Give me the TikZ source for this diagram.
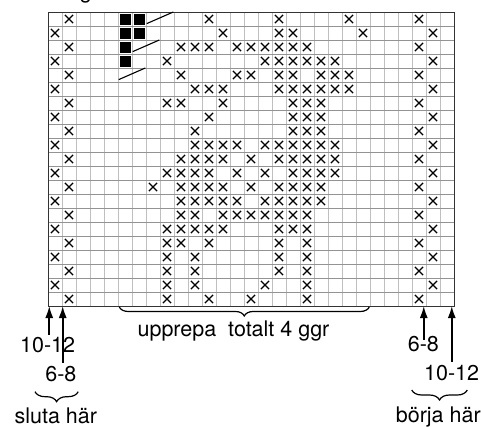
\documentclass[tikz,border=0pt]{standalone}
\usepackage{fontspec}
\setmainfont{TeX Gyre Heros}
\usetikzlibrary{arrows.meta}
\usetikzlibrary{decorations.pathreplacing}
\tikzset{>=latex}
\tikzset{
	xstitch/.pic={\draw[line width=1.3pt] (-0.29,-0.29)--(0.29,0.29) (-0.29,0.29)--(0.29,-0.29);},
	txt/.style={font=\fontsize{21.5}{25}\selectfont, inner sep=0pt, anchor=base},
	upp/.style={line width=1.6pt, -{Latex[length=12pt,width=8pt]}},
	klammer/.style={line width=1.2pt, decorate, decoration={brace, mirror, amplitude=#1}}
}

\begin{document}
\begin{tikzpicture}[x=14pt,y=14pt]
			\useasboundingbox (-3.4286,-8.5714) rectangle (30.9286,21.8571);
			% rutnät
			\foreach \i in {1,...,28} \draw[gray!50,line width=0.6pt] (\i,0)--(\i,21);
			\foreach \j in {1,...,20} \draw[gray!85,line width=0.7pt] (0,\j)--(29,\j);
			\draw[black!80,line width=0.8pt] (0,0) rectangle (29,21);
			\node[txt] (rubrik) at (2.71,21.93) {g};
			
			% mönster
			\foreach \r/\cols in {1/{2,12,17,22,27}, 2/{1,13,17,18,23,28},
				3/{2,10,11,12,14,15,16,17,18,19,27}, 4/{1,9,16,17,18,19,20,21,28},
				5/{2,10,14,15,17,18,20,21,22,27}, 6/{1,11,12,13,17,18,19,20,21,22,28},
				7/{2,9,10,13,18,19,20,27}, 8/{1,12,18,19,20,28}, 9/{2,11,18,19,20,27},
				10/{1,11,12,13,14,16,17,18,19,20,21,28}, 11/{2,10,11,12,13,15,17,18,19,20,21,27},
				12/{1,9,10,11,12,14,16,18,19,20,21,28}, 13/{2,8,10,11,12,13,15,17,18,19,20,27},
				14/{1,10,11,12,13,14,16,17,18,19,20,28}, 15/{2,10,11,13,14,15,16,17,18,19,27},
				16/{1,9,10,11,12,13,17,18,19,28}, 17/{2,9,10,12,17,19,27},
				18/{1,9,11,17,19,28}, 19/{2,9,11,17,19,27}, 20/{1,9,11,16,19,28},
				21/{2,9,12,15,19,27}}
				\foreach \c in \cols \pic at (\c-0.5,21.5-\r) {xstitch};
			\foreach \c/\r in {6/1,7/1,6/2,7/2,6/3,6/4}
				\filldraw[black] (\c-0.86,21.14-\r) rectangle (\c-0.14,21.86-\r);
			\foreach \x/\r in {7/1,6/3,5/5}
				\draw[line width=1.1pt] (\x+0.05,21.17-\r)--(\x+1.95,22-\r);
			
			% pilar
			\coordinate (A1) at (0.09,-2.07);
			\coordinate (B1) at (0.09,0);
			\coordinate (A2) at (1.05,-4.05);
			\coordinate (B2) at (1.05,0);
			\coordinate (A3) at (26.84,-2.4);
			\coordinate (B3) at (26.84,0);
			\coordinate (A4) at (28.84,-3.98);
			\coordinate (B4) at (28.84,0);
			\draw[upp] (A1)--(B1);
			\draw[upp] (A2)--(B2);
			\draw[upp] (A3)--(B3);
			\draw[upp] (A4)--(B4);
			
			\node[txt] (v1012) at (-0.03,-3.33) {10-12};
			\node[txt] (v68) at (0.92,-5.41) {6-8};
			\node[txt] (h68) at (26.81,-3.26) {6-8};
			\node[txt] (h1012) at (28.83,-5.29) {10-12};
			
			% klamrar
			\coordinate (U1) at (5.09,-0.07);
			\coordinate (U2) at (22.95,-0.07);
			\coordinate (S1) at (-0.93,-6.12);
			\coordinate (S2) at (2.16,-6.12);
			\coordinate (R1) at (25.98,-6.0);
			\coordinate (R2) at (29.95,-6.0);
			\draw[klammer=9pt] (U1)--(U2);
			\draw[klammer=10pt] (S1)--(S2);
			\draw[klammer=10pt] (R1)--(R2);
			\node[txt] (upprepa) at (13.25,-2.19) {upprepa\ \ totalt 4 ggr};
			\node[txt] (sluta) at (0.56,-8.38) {sluta här};
			\node[txt] (borja) at (27.88,-8.34) {börja här};
		\end{tikzpicture}
\end{document}
